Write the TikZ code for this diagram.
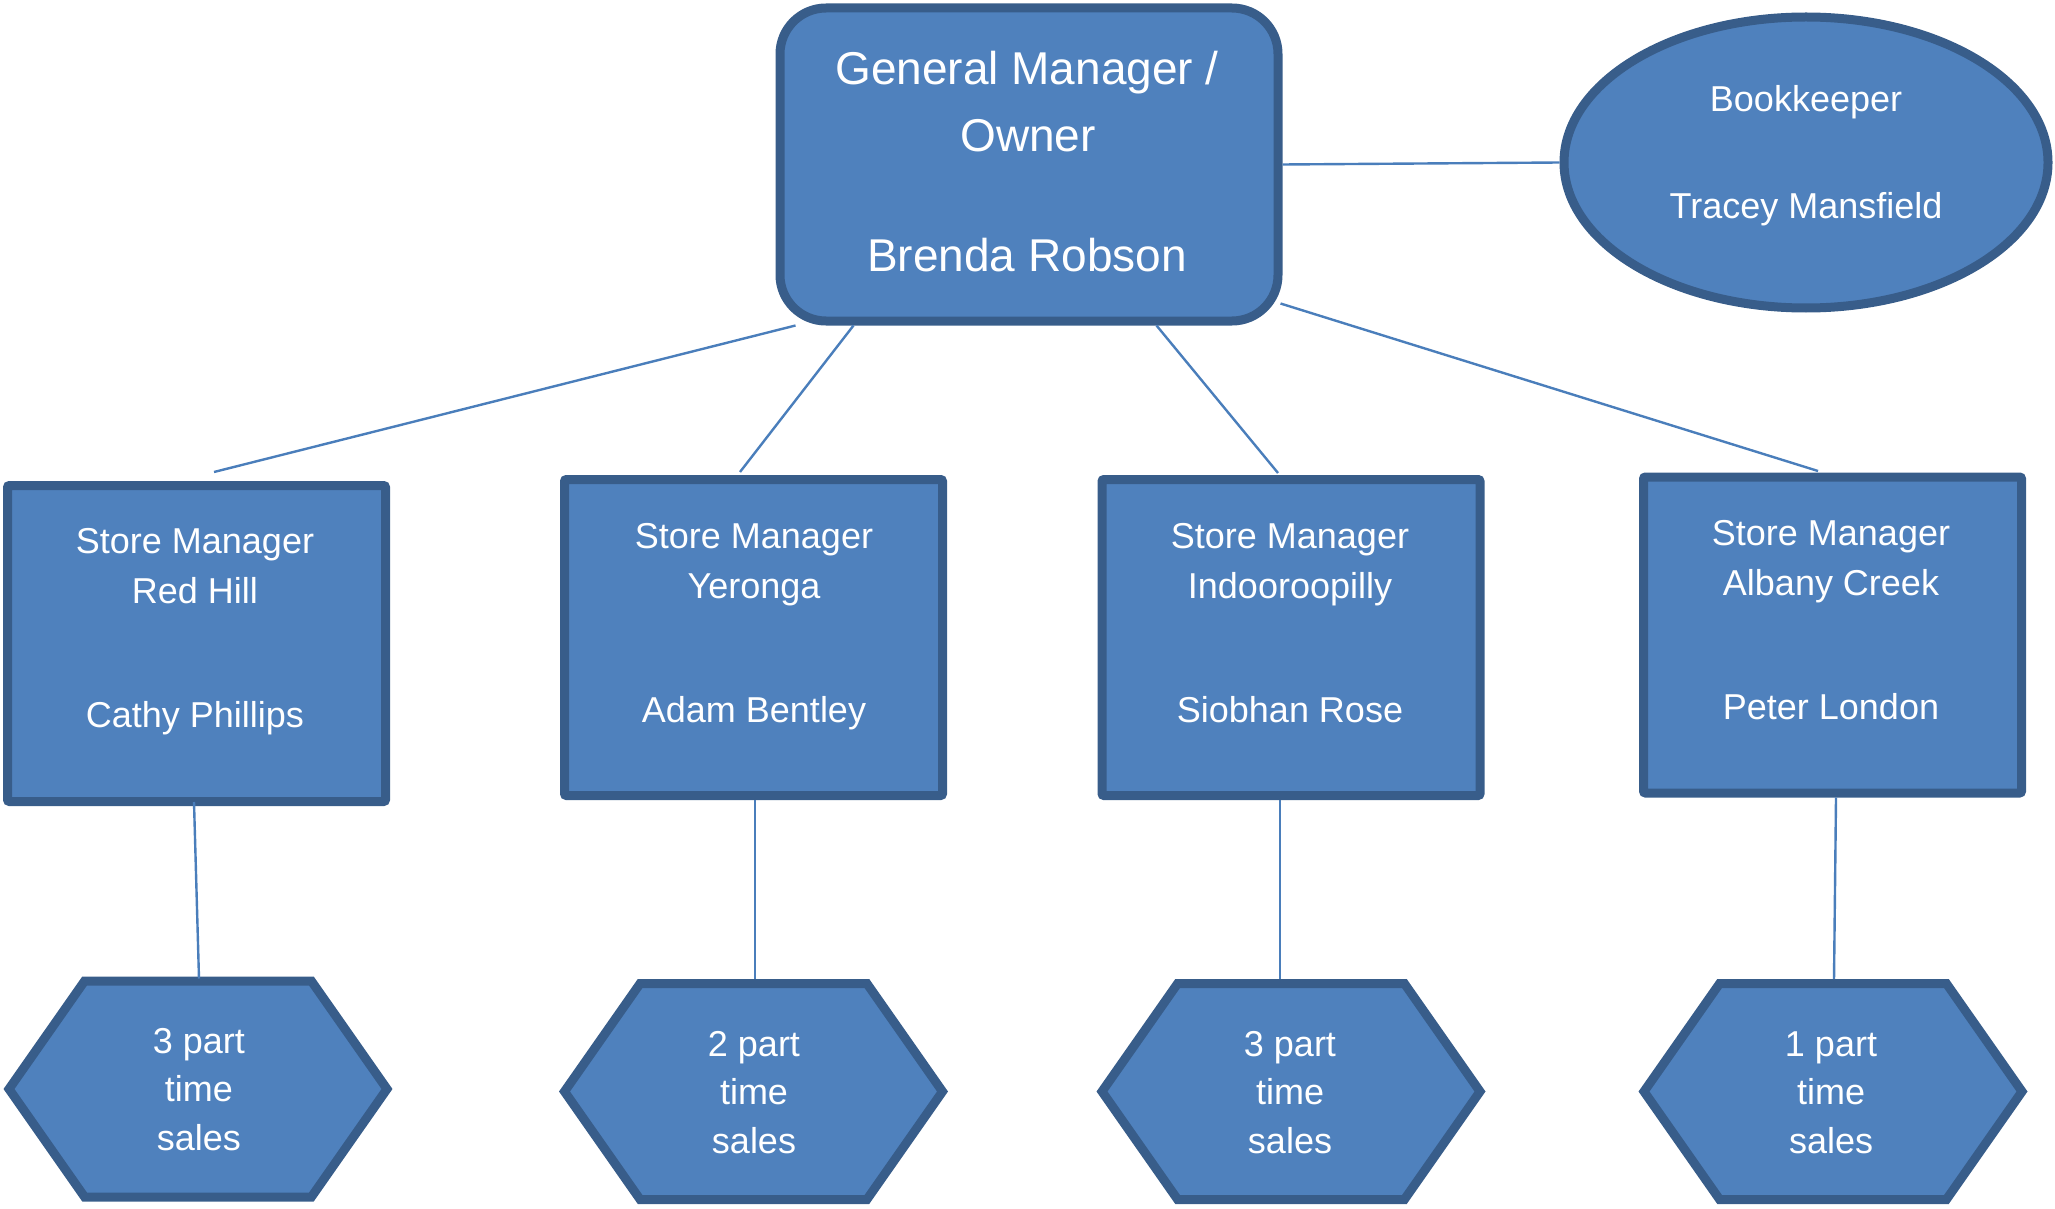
\documentclass[tikz,border=0pt]{standalone}
\usepackage{fontspec}
\setmainfont{Liberation Sans}
\usetikzlibrary{shapes.geometric,shapes.symbols,calc}
\definecolor{boxfill}{HTML}{4F81BD}
\definecolor{boxline}{HTML}{385D8A}
\definecolor{conn}{HTML}{4A7EBB}
\newcommand\txtline[5]{\node[#1] (#2) at (#3,#4) {#5};}
\begin{document}
\begin{tikzpicture}[x=0.5pt,y=-0.5pt,
 shapebox/.style={fill=boxfill, draw=boxline, line width=4.5pt, inner sep=0pt},
 gmbox/.style={shapebox, rectangle, rounded corners=23pt, minimum width=249pt, minimum height=156.5pt},
 bkell/.style={shapebox, ellipse, minimum width=242pt, minimum height=145.5pt},
 smbox/.style={shapebox, rectangle, rounded corners=1pt, minimum width=189pt, minimum height=158pt},
 hexbox/.style={shapebox, signal, signal to=east and west, signal pointer angle=110, minimum width=189pt, minimum height=108pt},
 big/.style={text=white, anchor=base, inner sep=0pt, font=\fontsize{23}{28}\selectfont},
 small/.style={text=white, anchor=base, inner sep=0pt, font=\fontsize{18}{22}\selectfont},
 link/.style={draw=conn, line width=1.2pt}]
\useasboundingbox (0,0) rectangle (2055,1209);
% shapes
\node[gmbox] (gm) at (1029,164.5) {};
\node[bkell] (bk) at (1806,162.5) {};
\node[smbox] (s1) at (196.5,643.5) {};
\node[smbox] (s2) at (753.5,637.5) {};
\node[smbox] (s3) at (1291,637.5) {};
\node[smbox] (s4) at (1832.5,635) {};
\node[hexbox] (h1) at (198,1089) {};
\node[hexbox] (h2) at (753.5,1091.5) {};
\node[hexbox] (h3) at (1291,1091.5) {};
\node[hexbox] (h4) at (1833,1091.5) {};
% texts
\txtline{big}{gmA}{1027}{85}{General Manager /}
\txtline{big}{gmB}{1028}{151.7}{Owner}
\txtline{big}{gmC}{1027}{271.7}{Brenda Robson}
\txtline{small}{bkA}{1806}{111.7}{Bookkeeper}
\txtline{small}{bkB}{1806}{219}{Tracey Mansfield}
\txtline{small}{s1A}{195}{553.3}{Store Manager}
\txtline{small}{s1B}{195}{603.3}{Red Hill}
\txtline{small}{s1C}{195}{727.3}{Cathy Phillips}
\txtline{small}{s2A}{754}{548}{Store Manager}
\txtline{small}{s2B}{754}{598}{Yeronga}
\txtline{small}{s2C}{754}{722}{Adam Bentley}
\txtline{small}{s3A}{1290}{548}{Store Manager}
\txtline{small}{s3B}{1290}{598}{Indooroopilly}
\txtline{small}{s3C}{1290}{722}{Siobhan Rose}
\txtline{small}{s4A}{1831}{545.5}{Store Manager}
\txtline{small}{s4B}{1831}{595.5}{Albany Creek}
\txtline{small}{s4C}{1831}{719.5}{Peter London}
\txtline{small}{h1A}{198.8}{1053.3}{3 part}
\txtline{small}{h1B}{198.8}{1101.7}{time}
\txtline{small}{h1C}{198.8}{1150.7}{sales}
\txtline{small}{h2A}{754}{1056}{2 part}
\txtline{small}{h2B}{754}{1104.3}{time}
\txtline{small}{h2C}{754}{1153.3}{sales}
\txtline{small}{h3A}{1290}{1056}{3 part}
\txtline{small}{h3B}{1290}{1104.3}{time}
\txtline{small}{h3C}{1290}{1153.3}{sales}
\txtline{small}{h4A}{1831}{1056}{1 part}
\txtline{small}{h4B}{1831}{1104.3}{time}
\txtline{small}{h4C}{1831}{1153.3}{sales}
% connectors
\draw[link] (gm.east) -- (bk.west);
\draw[link] ($(gm.south west)+(20,0)$) -- ($(s1.north)+(17.5,-9)$);
\draw[link] ($(gm.south west)+(78,0)$) -- ($(s2.north)+(-13.5,-3)$);
\draw[link] ($(gm.south east)+(-126,0)$) -- ($(s3.north)+(-13,-2)$);
\draw[link] ($(gm.south east)+(-2,-22)$) -- ($(s4.north)+(-14.5,-1.5)$);
\draw[link] ($(s1.south)+(-2.5,-4)$) -- ($(h1.north)+(1,2)$);
\draw[link] ($(s2.south)+(1.5,0)$) -- ($(h2.north)+(1.5,0)$);
\draw[link] ($(s3.south)+(-11,0)$) -- ($(h3.north)+(-11,0)$);
\draw[link] ($(s4.south)+(3.5,0)$) -- ($(h4.north)+(1,0)$);
\end{tikzpicture}
\end{document}
